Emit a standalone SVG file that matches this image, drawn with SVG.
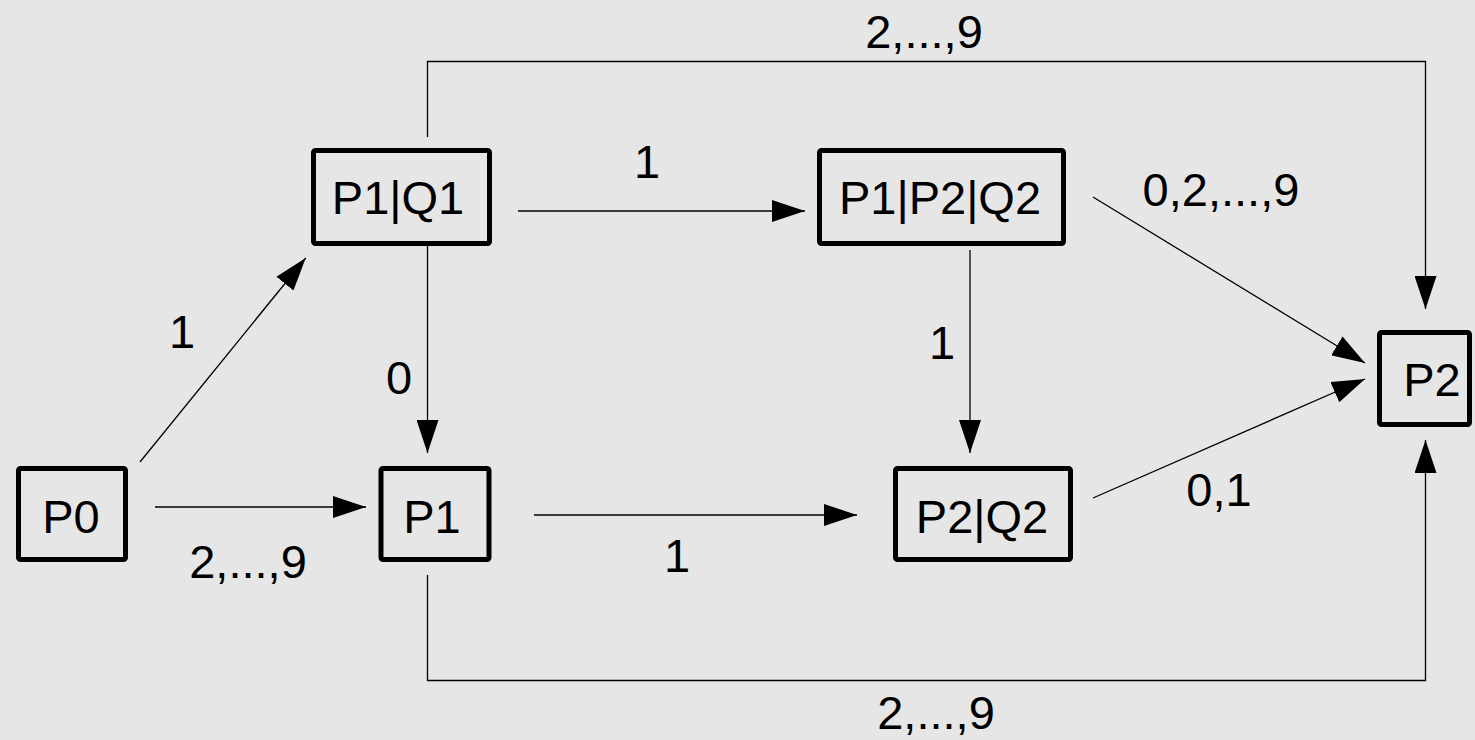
<svg xmlns="http://www.w3.org/2000/svg" width="1475" height="740" viewBox="0 0 1475 740">
<style>
.bg{fill:#e6e6e6}
.box{fill:#e6e6e6;stroke:#000;stroke-width:5}
.t{font-family:"Liberation Sans",Arial,sans-serif;font-size:47px;fill:#000}
.c{fill:none;stroke:#000;stroke-width:1.3}
.a{marker-end:url(#ah)}
</style>
<defs>
<marker id="ah" viewBox="0 0 33 22" markerWidth="33" markerHeight="22" markerUnits="userSpaceOnUse" refX="33" refY="11" orient="auto">
<path d="M0,0 L33,11 L0,22 z" fill="#000"/>
</marker>
</defs>
<rect class="bg" x="0" y="0" width="1475" height="740"/>
<g id="connectors">
<line class="c a" x1="140" y1="462" x2="305.7" y2="258"/>
<line class="c a" x1="155" y1="507" x2="366" y2="507"/>
<line class="c a" x1="427.5" y1="246" x2="427.5" y2="453"/>
<line class="c a" x1="518" y1="211" x2="805" y2="211"/>
<polyline class="c a" points="427.5,137 427.5,61.5 1425.5,61.5 1425.5,309"/>
<polyline class="c a" points="427.5,575 427.5,680.5 1425.5,680.5 1425.5,440"/>
<line class="c a" x1="534" y1="515" x2="857" y2="515"/>
<line class="c a" x1="970" y1="250" x2="970" y2="453"/>
<line class="c a" x1="1093" y1="197" x2="1365" y2="363"/>
<line class="c a" x1="1093" y1="498" x2="1365" y2="379"/>
<text class="t" x="182" y="348" text-anchor="middle">1</text>
<text class="t" x="248" y="578" text-anchor="middle">2,...,9</text>
<text class="t" x="399" y="394" text-anchor="middle">0</text>
<text class="t" x="647" y="178" text-anchor="middle">1</text>
<text class="t" x="924" y="48" text-anchor="middle">2,...,9</text>
<text class="t" x="936" y="729" text-anchor="middle">2,...,9</text>
<text class="t" x="677" y="572" text-anchor="middle">1</text>
<text class="t" x="942" y="359" text-anchor="middle">1</text>
<text class="t" x="1221" y="206" text-anchor="middle">0,2,...,9</text>
<text class="t" x="1219" y="506" text-anchor="middle">0,1</text>
</g>
<g id="P0">
<rect class="box" x="18.5" y="468.5" width="107" height="91" rx="2"/>
<text class="t" x="71" y="533" text-anchor="middle">P0</text>
</g>
<g id="P1">
<rect class="box" x="381" y="468.5" width="108" height="91" rx="2"/>
<text class="t" x="432" y="533" text-anchor="middle">P1</text>
</g>
<g id="P1Q1">
<rect class="box" x="313.5" y="150.5" width="176" height="93" rx="2"/>
<text class="t" x="398" y="214" text-anchor="middle">P1|Q1</text>
</g>
<g id="P1P2Q2">
<rect class="box" x="819.5" y="150.5" width="244" height="93" rx="2"/>
<text class="t" x="940" y="214" text-anchor="middle">P1|P2|Q2</text>
</g>
<g id="P2Q2">
<rect class="box" x="895.5" y="468.5" width="175" height="91" rx="2"/>
<text class="t" x="982" y="533" text-anchor="middle">P2|Q2</text>
</g>
<g id="P2">
<rect class="box" x="1379.5" y="332.5" width="90" height="92" rx="2"/>
<text class="t" x="1432" y="396" text-anchor="middle">P2</text>
</g>
</svg>
